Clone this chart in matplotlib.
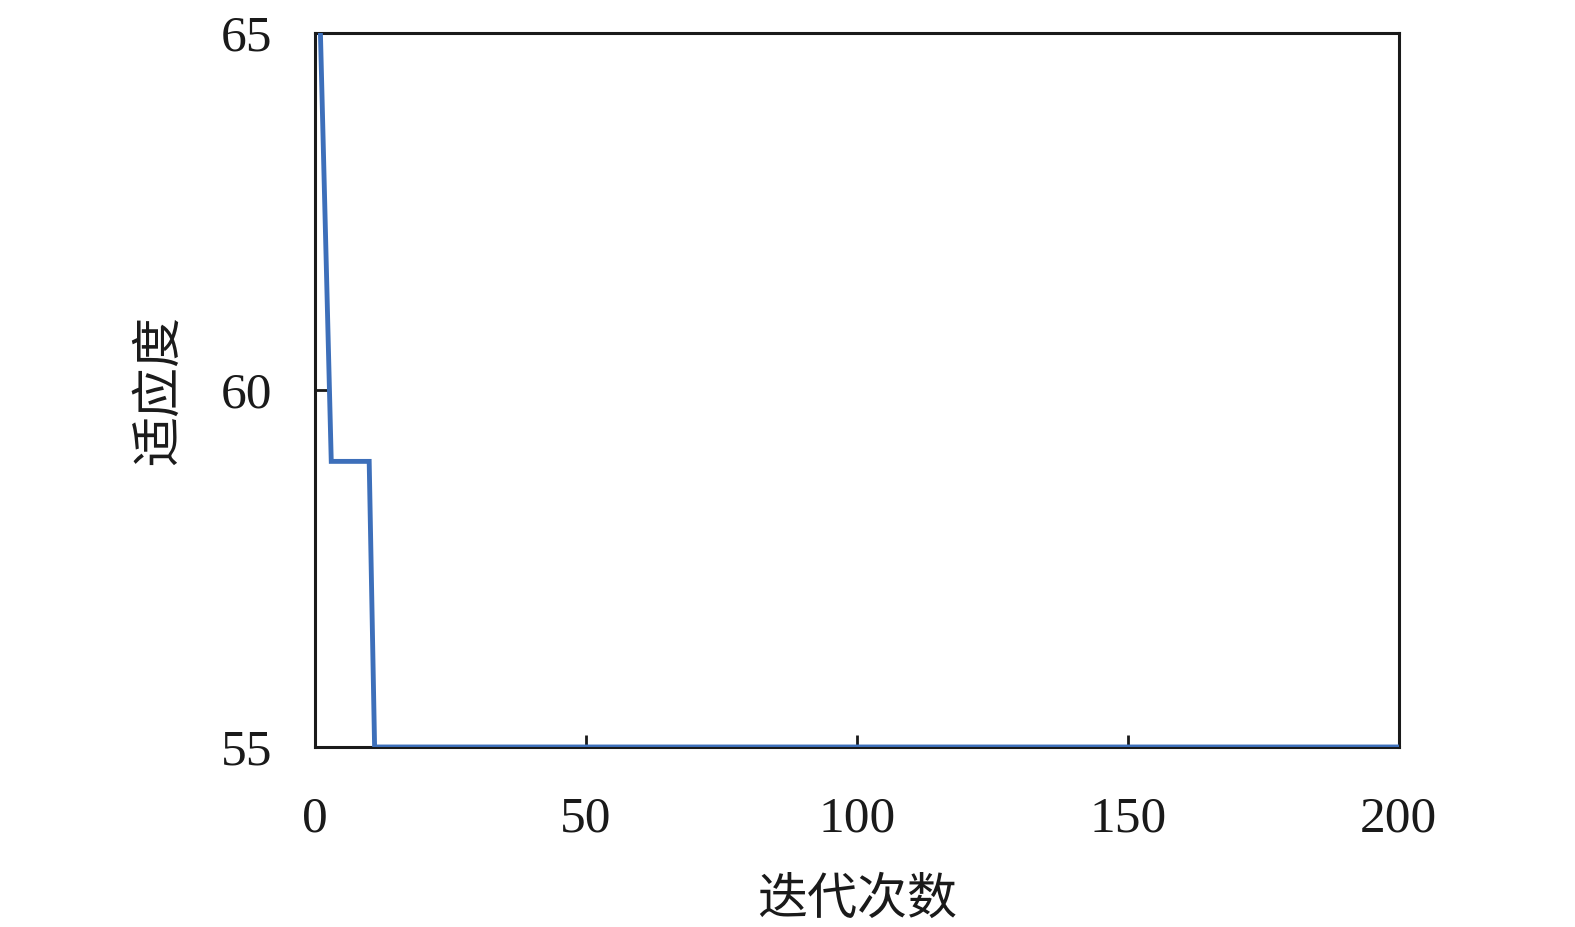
import matplotlib
matplotlib.use("Agg")
import matplotlib.pyplot as plt

iterations = [1, 3, 10, 11, 200]
fitness = [65, 59, 59, 55, 55]
x_ticks = [0, 50, 100, 150, 200]
y_ticks = [55, 60, 65]
x_label = "迭代次数"
y_label = "适应度"

fig = plt.figure(figsize=(15.75, 9.27), dpi=100)
ax = fig.add_axes([0.2, 0.1942, 0.688, 0.7702])
ax.plot(iterations, fitness, color="#3D6FBA", linewidth=3.5, solid_joinstyle="miter", clip_on=True, zorder=3)
ax.set_xlim(0, 200)
ax.set_ylim(55, 65)
ax.set_xticks(x_ticks)
ax.set_yticks(y_ticks)
for s in ax.spines.values():
    s.set_linewidth(2.2)
    s.set_color("#1a1a1a")
ax.tick_params(direction="in", length=9, width=2, color="#1a1a1a")
ax.tick_params(axis="x", pad=35)
ax.tick_params(axis="y", pad=31)
for lab in ax.get_xticklabels() + ax.get_yticklabels():
    lab.set_fontfamily("Liberation Serif")
    lab.set_fontsize(37)
    lab.set_color("#1a1a1a")

ax.set_xlabel(x_label, fontsize=36, family=["Noto Sans CJK SC", "DejaVu Sans"], color="#1a1a1a")
ax.set_ylabel(y_label, fontsize=36, family=["Noto Sans CJK SC", "DejaVu Sans"], color="#1a1a1a")
ax.xaxis.set_label_coords(0.5, -0.178)
ax.yaxis.set_label_coords(-0.12, 0.5)

fig.savefig("out.png", dpi=100)
